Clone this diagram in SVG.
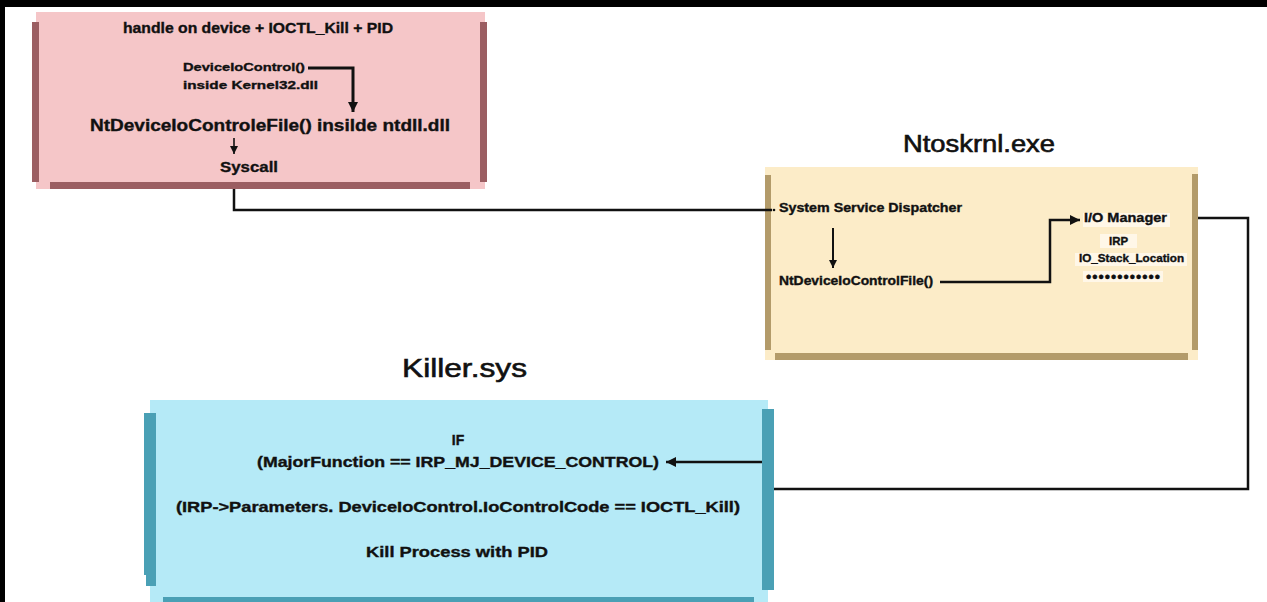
<svg xmlns="http://www.w3.org/2000/svg" width="1267" height="602" viewBox="0 0 1267 602">
<style>
text{font-family:"Liberation Sans",Arial,sans-serif;fill:#111;}
.b{font-weight:bold;stroke:#111;stroke-width:0.35;}
.t{font-weight:normal;stroke:#111;stroke-width:0.6;}
.c{fill:none;stroke:#111;stroke-width:2.5;stroke-linejoin:miter;}
.hl{fill:#fff7e8;}
</style>
<defs>
<marker id="ah" markerUnits="userSpaceOnUse" markerWidth="12" markerHeight="12" refX="10" refY="6" orient="auto">
<path d="M0,1 L10,6 L0,11 Z" fill="#111"/>
</marker>
<marker id="ahs" markerUnits="userSpaceOnUse" markerWidth="10" markerHeight="10" refX="8" refY="5" orient="auto">
<path d="M0,1 L8,5 L0,9 Z" fill="#111"/>
</marker>
</defs>
<rect x="0" y="0" width="1267" height="602" fill="#fff"/>
<rect x="0" y="0" width="1267" height="7" fill="#000"/>
<rect x="0" y="0" width="5" height="602" fill="#000"/>

<g id="userland">
<rect x="36" y="12" width="449" height="177" fill="#f5c6c8"/>
<rect x="32" y="22" width="7" height="160" fill="#9b5e62"/>
<rect x="480" y="22" width="7" height="160" fill="#9b5e62"/>
<rect x="50" y="182" width="420" height="7" fill="#9b5e62"/>
<text class="b" x="123" y="33" font-size="14" textLength="270" lengthAdjust="spacingAndGlyphs">handle on device + IOCTL_Kill + PID</text>
<text class="b" x="183" y="71" font-size="11.5" textLength="122" lengthAdjust="spacingAndGlyphs">DeviceIoControl()</text>
<text class="b" x="183" y="89" font-size="11.5" textLength="135" lengthAdjust="spacingAndGlyphs">inside Kernel32.dll</text>
<text class="b" x="90" y="131" font-size="16" textLength="360" lengthAdjust="spacingAndGlyphs">NtDeviceIoControleFile() insilde ntdll.dll</text>
<text class="b" x="220" y="172" font-size="15" textLength="58" lengthAdjust="spacingAndGlyphs">Syscall</text>
<path d="M308,68 H353 V112" fill="none" stroke="#111" stroke-width="3" marker-end="url(#ah)"/>
<path d="M234,138 V154" fill="none" stroke="#111" stroke-width="1.6" marker-end="url(#ahs)"/>
</g>

<g id="ntoskrnl">
<text class="t" x="903" y="152" font-size="23" textLength="152" lengthAdjust="spacingAndGlyphs">Ntoskrnl.exe</text>
<rect x="765" y="167" width="433" height="193" fill="#fcecc8"/>
<rect x="765" y="175" width="6" height="175" fill="#b39b6a"/>
<rect x="1192" y="174" width="6" height="176" fill="#b39b6a"/>
<rect x="775" y="353" width="413" height="7" fill="#b39b6a"/>
<circle cx="774" cy="210" r="1.3" fill="#111"/>
<text class="b" x="779" y="212" font-size="12" textLength="183" lengthAdjust="spacingAndGlyphs">System Service Dispatcher</text>
<path d="M833,228 V268" fill="none" stroke="#111" stroke-width="2" marker-end="url(#ahs)"/>
<text class="b" x="779" y="285" font-size="12" textLength="154" lengthAdjust="spacingAndGlyphs">NtDeviceIoControlFile()</text>
<rect class="hl" x="1083" y="213" width="87" height="14"/>
<text class="b" x="1084" y="222" font-size="12" textLength="83" lengthAdjust="spacingAndGlyphs">I/O Manager</text>
<rect class="hl" x="1100" y="234" width="37" height="14"/>
<text class="b" x="1109" y="245" font-size="10.5" textLength="19" lengthAdjust="spacingAndGlyphs">IRP</text>
<rect class="hl" x="1075" y="253" width="112" height="13"/>
<text class="b" x="1079" y="262" font-size="10.5" textLength="105" lengthAdjust="spacingAndGlyphs">IO_Stack_Location</text>
<rect class="hl" x="1083" y="271" width="80" height="11"/>
<text class="b" x="1086" y="282" font-size="15" textLength="74" lengthAdjust="spacing">••••••••••••</text>
</g>

<g id="killer">
<text class="t" x="402" y="377" font-size="26" textLength="125" lengthAdjust="spacingAndGlyphs">Killer.sys</text>
<rect x="150" y="400" width="618" height="202" fill="#b5eaf7"/>
<rect x="144" y="413" width="12" height="162" fill="#4aa0b5"/>
<rect x="146" y="575" width="10" height="11" fill="#4aa0b5"/>
<rect x="762" y="409" width="12" height="181" fill="#4aa0b5"/>
<rect x="163" y="597" width="591" height="5" fill="#4aa0b5"/>
<text class="b" x="458" y="445" font-size="14" text-anchor="middle">IF</text>
<text class="b" x="257" y="467" font-size="14" textLength="402" lengthAdjust="spacingAndGlyphs">(MajorFunction == IRP_MJ_DEVICE_CONTROL)</text>
<text class="b" x="176" y="512" font-size="14" textLength="564" lengthAdjust="spacingAndGlyphs">(IRP-&gt;Parameters. DeviceIoControl.IoControlCode == IOCTL_Kill)</text>
<text class="b" x="366" y="557" font-size="14" textLength="182" lengthAdjust="spacingAndGlyphs">Kill Process with PID</text>
</g>

<g id="connectors">
<path class="c" d="M234,189 V210 H772"/>
<path class="c" d="M940,282 H1050 V220 H1080" marker-end="url(#ah)"/>
<path class="c" d="M1198,218 H1248 V489 H774"/>
<path class="c" d="M762,462 H666" marker-end="url(#ah)"/>
</g>
</svg>
